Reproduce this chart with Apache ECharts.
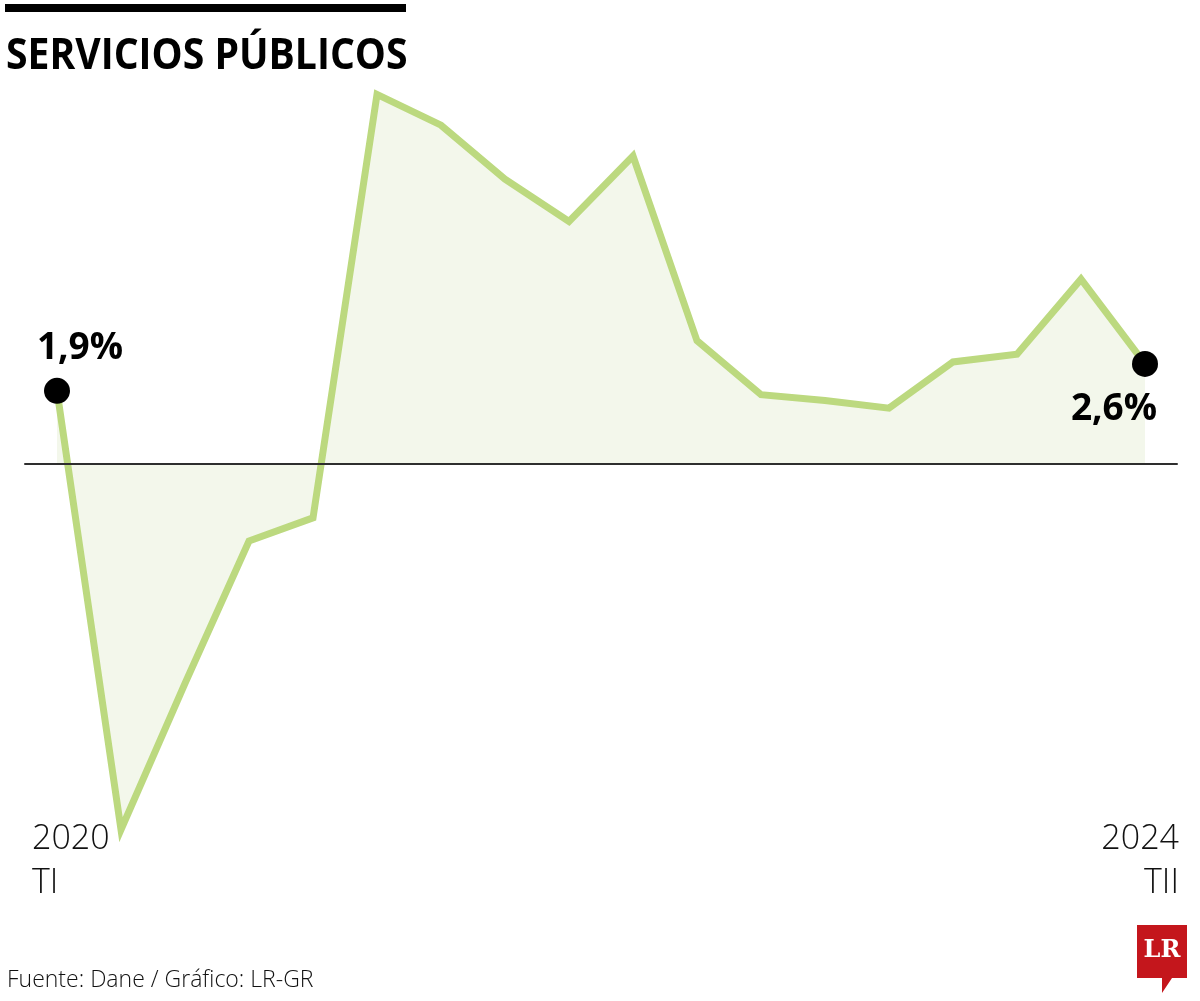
<!DOCTYPE html>
<html>
<head>
<meta charset="utf-8">
<script src="https://cdn.jsdelivr.net/npm/echarts@6/dist/echarts.min.js"></script>
<style>
html,body{margin:0;padding:0;background:#fff;}
#chart{width:1200px;height:1001px;}
</style>
</head>
<body>
<div id="chart"></div>
<script>
// Quarters 2020 TI .. 2024 TII
const quarters = ['2020 TI','2020 TII','2020 TIII','2020 TIV','2021 TI','2021 TII','2021 TIII','2021 TIV',
  '2022 TI','2022 TII','2022 TIII','2022 TIV','2023 TI','2023 TII','2023 TIII','2023 TIV','2024 TI','2024 TII'];
const growth = [1.9, -9.5, -5.7, -2.0, -1.4, 9.6, 8.8, 7.4, 6.3, 8.0, 3.2, 1.8, 1.65, 1.45, 2.65, 2.85, 4.8, 2.6];
const endLabels = ['1,9%', '2,6%'];
const startTick = ['2020', 'TI'];
const endTick = ['2024', 'TII'];
const titleText = 'SERVICIOS PÚBLICOS';
const sourceText = 'Fuente: Dane / Gráfico: LR-GR';

const chart = echarts.init(document.getElementById('chart'), null, {renderer: 'canvas'});
const last = growth.length - 1;

const option = {
  backgroundColor: '#ffffff',
  animation: false,
  grid: {left: 25, right: 23, top: 79, bottom: 152},
  xAxis: {
    type: 'category',
    data: quarters,
    boundaryGap: true,
    z: 5,
    axisLine: {show: true, onZero: true, lineStyle: {color: '#2e2e2e', width: 2}},
    axisTick: {show: false},
    axisLabel: {show: false},
    splitLine: {show: false}
  },
  yAxis: {
    type: 'value',
    min: -10, max: 10,
    show: false
  },
  series: [{
    type: 'line',
    data: growth.map((v, i) => {
      if (i === 0 || i === last) {
        return {
          value: v,
          symbol: 'circle',
          symbolSize: 26,
          itemStyle: {color: '#000000'},
          label: {
            show: true,
            formatter: i === 0 ? endLabels[0] : endLabels[1],
            position: i === 0 ? 'top' : 'bottom',
            distance: i === 0 ? 11 : 14,
            offset: i === 0 ? [23, 0] : [-31, 0],
            fontFamily: 'Open Sans',
            fontWeight: 'bold',
            fontSize: 37,
            color: '#000000'
          }
        };
      }
      return {value: v, symbol: 'none', symbolSize: 0};
    }),
    showSymbol: true,
    z: 3,
    lineStyle: {color: '#bcd97f', width: 7, join: 'miter'},
    areaStyle: {color: '#f3f7eb', opacity: 1, origin: 0},
    silent: true
  }],
  graphic: [
    {type: 'rect', shape: {x: 5, y: 4, width: 401, height: 8}, style: {fill: '#000000'}},
    {type: 'text', x: 6, y: 35, scaleX: 0.91, style: {text: titleText, fontFamily: 'Open Sans', fontWeight: 'bold', fontSize: 43, fill: '#000000'}},
    {type: 'text', x: 32, y: 817, style: {text: startTick.join('\n'), fontFamily: 'Open Sans', fontWeight: 300, fontSize: 34, lineHeight: 44, fill: '#111111', textAlign: 'left'}},
    {type: 'text', x: 1179, y: 817, style: {text: endTick.join('\n'), fontFamily: 'Open Sans', fontWeight: 300, fontSize: 34, lineHeight: 44, fill: '#111111', textAlign: 'right'}},
    {type: 'text', x: 7, y: 969, style: {text: sourceText, fontFamily: 'Open Sans', fontWeight: 300, fontSize: 23, fill: '#111111'}},
    {type: 'polygon', shape: {points: [[1137,925],[1187,925],[1187,978],[1172,978],[1162,993],[1162,978],[1137,978]]}, style: {fill: '#c4161c'}},
    {type: 'text', x: 1162, y: 951, style: {text: 'LR', fontFamily: 'DejaVu Serif', fontWeight: 'bold', fontSize: 24, fill: '#ffffff', textAlign: 'center', textVerticalAlign: 'middle'}}
  ]
};
chart.setOption(option);
</script>
</body>
</html>
